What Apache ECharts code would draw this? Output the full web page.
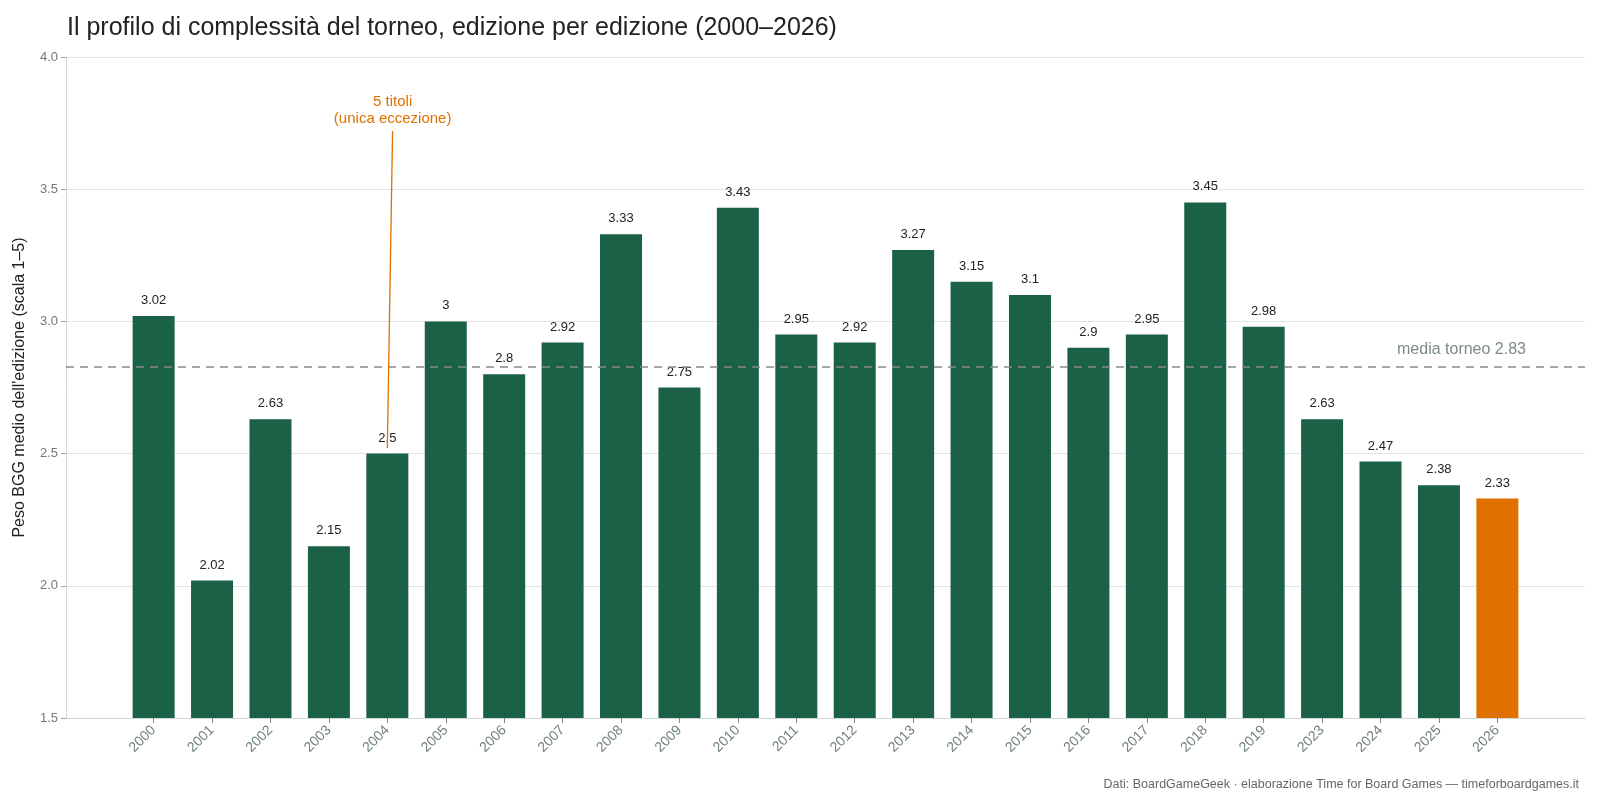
<!DOCTYPE html>
<html>
<head>
<meta charset="utf-8">
<script src="https://cdn.jsdelivr.net/npm/echarts@6/dist/echarts.min.js"></script>
<style>
  html, body { margin: 0; padding: 0; background: #fff; }
  #chart { width: 1600px; height: 800px; }
</style>
</head>
<body>
<div id="chart"></div>
<script>
// edizioni del torneo (manca 2020-2022)
var years = ['2000', '2001', '2002', '2003', '2004', '2005', '2006', '2007', '2008', '2009',
  '2010', '2011', '2012', '2013', '2014', '2015', '2016', '2017', '2018', '2019',
  '2023', '2024', '2025', '2026']
var weights = [3.02, 2.02, 2.63, 2.15, 2.5, 3, 2.8, 2.92, 3.33, 2.75,
  3.43, 2.95, 2.92, 3.27, 3.15, 3.1, 2.9, 2.95, 3.45, 2.98,
  2.63, 2.47, 2.38, 2.33]
var mediaTorneo = 2.83

var green = '#1b6146'
var orange = '#e07000'
var font = "'Liberation Sans', Arial, sans-serif"

let idx = years.map(function (y, i) { return i })
let lastYear = years.length - 1

let barData = weights.map(function (w, i) {
  return {
    value: [i, w],
    itemStyle: { color: i === lastYear ? orange : green }
  }
})

let myChart = echarts.init(document.getElementById('chart'))
let option = {
  backgroundColor: '#fff',
  textStyle: { fontFamily: font },
  animation: false,
  title: {
    text: 'Il profilo di complessità del torneo, edizione per edizione (2000–2026)',
    left: 62,
    top: 11,
    textStyle: { fontSize: 25, fontWeight: 'normal', color: '#222', fontFamily: font }
  },
  graphic: [{
    type: 'text',
    right: 21,
    top: 778,
    style: {
      text: 'Dati: BoardGameGeek · elaborazione Time for Board Games — timeforboardgames.it',
      fill: '#666',
      font: '12.5px ' + font
    }
  }],
  grid: { left: 66, right: 15, top: 57, bottom: 82, outerBoundsMode: 'none' },
  xAxis: {
    type: 'value',
    min: -1.5,
    max: 24.5,
    splitLine: { show: false },
    axisLine: { show: true, lineStyle: { color: '#cfd8d8' } },
    axisTick: { show: true, customValues: idx, length: 5, lineStyle: { color: '#7f8c8c' } },
    axisLabel: {
      customValues: idx,
      rotate: 45,
      color: '#6f7f7f',
      fontSize: 14,
      margin: 10,
      formatter: function (v) { return years[v] }
    }
  },
  yAxis: {
    type: 'value',
    min: 1.5,
    max: 4,
    interval: 0.5,
    name: "Peso BGG medio dell'edizione (scala 1–5)",
    nameLocation: 'middle',
    nameGap: 38,
    nameTextStyle: { fontSize: 16, color: '#222' },
    axisLine: { show: true, onZero: false, lineStyle: { color: '#cfd8d8' } },
    axisTick: { show: true, length: 5, lineStyle: { color: '#9aa6a6' } },
    axisLabel: {
      color: '#777',
      fontSize: 13,
      formatter: function (v) { return v.toFixed(1) }
    },
    splitLine: { show: true, lineStyle: { color: '#dfe5e5' } }
  },
  series: [{
    name: 'peso',
    type: 'bar',
    barWidth: 42,
    data: barData,
    label: {
      show: true,
      position: 'top',
      distance: 9,
      color: '#222',
      fontSize: 13,
      formatter: function (p) { return p.value[1] }
    },
    markLine: {
      silent: true,
      symbol: ['none', 'none'],
      z: 10,
      data: [
        {
          yAxis: mediaTorneo,
          lineStyle: { color: '#888', type: [8, 6], width: 1.5 },
          label: {
            show: true,
            position: 'insideEndTop',
            formatter: 'media torneo ' + mediaTorneo,
            color: '#7b8a8a',
            fontSize: 16,
            padding: [0, 54, 4, 0]
          }
        },
        [
          { coord: [4, 2.52] },
          {
            coord: [4.09, 3.72],
            lineStyle: { color: orange, type: 'solid', width: 1.3 },
            label: {
              show: true,
              position: 'end',
              distance: 4,
              formatter: '5 titoli\n(unica eccezione)',
              color: orange,
              fontSize: 15,
              lineHeight: 17
            }
          }
        ]
      ]
    }
  }]
}

myChart.setOption(option)
</script>
</body>
</html>
